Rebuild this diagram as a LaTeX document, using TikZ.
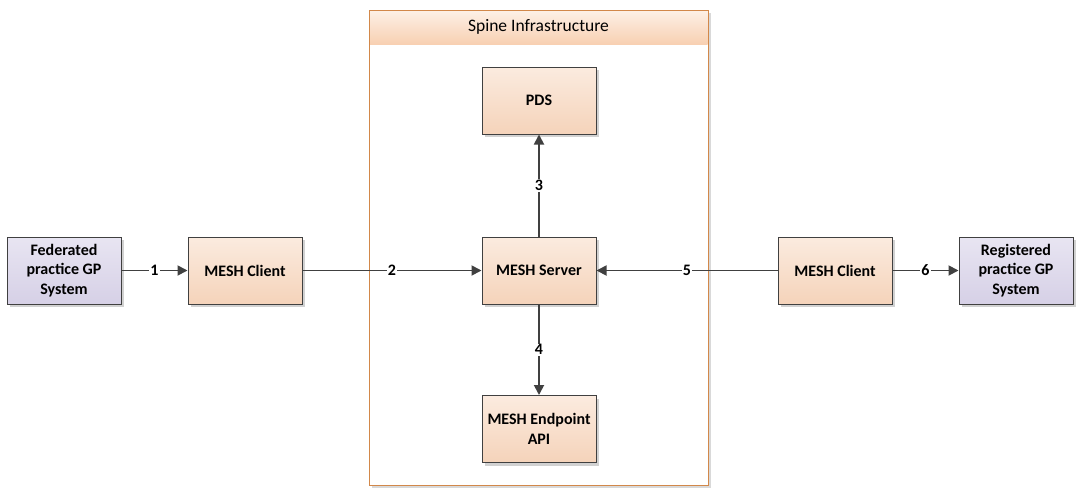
\documentclass[tikz,border=0pt]{standalone}
\usepackage{fontspec}
\setmainfont{Carlito}
\usetikzlibrary{arrows.meta,shadows}
\definecolor{boxtop}{HTML}{FBEBDF}
\definecolor{boxbot}{HTML}{F5D3BA}
\definecolor{systop}{HTML}{E8E5F2}
\definecolor{sysbot}{HTML}{D6D0E6}
\definecolor{edgec}{HTML}{404040}
\definecolor{contc}{HTML}{D2884A}
\definecolor{headtop}{HTML}{FDF0E6}
\definecolor{headbot}{HTML}{F8D0B2}
\tikzset{
  base/.style={draw=edgec, line width=1pt, minimum width=114pt, minimum height=67pt,
    align=center, font=\fontsize{16pt}{19.5pt}\selectfont\bfseries,
    drop shadow={shadow xshift=3pt, shadow yshift=-3pt, fill=black!18, opacity=1}},
  comp/.style={base, top color=boxtop, bottom color=boxbot},
  sys/.style={base, top color=systop, bottom color=sysbot},
  conn/.style={draw=edgec, line width=1.8pt, -{Triangle[length=10pt,width=10pt]}},
  lbl/.style={fill=white, inner sep=1pt, font=\fontsize{16pt}{19pt}\selectfont\bfseries, text=black}
}
\begin{document}
\begin{tikzpicture}[x=1pt,y=-1pt]
\useasboundingbox (0,0) rectangle (1081,496);
% container
\fill[black!15] (372,13) rectangle (711,488);
\draw[contc, line width=1pt, fill=white] (369,10) rectangle (708,485);
\shade[top color=headtop, bottom color=headbot] (369.5,10.5) rectangle (707.5,44);
\draw[contc, line width=1pt] (369,10) rectangle (708,485);
\node (title) at (538.5,27) {\fontsize{17.5pt}{20pt}\selectfont Spine Infrastructure};
% nodes
\node[sys]  (fed)  at (64,270.5) {Federated\\practice GP\\System};
\node[comp] (cl)   at (245,270.5) {MESH Client};
\node[comp] (srv)  at (539,270.5) {MESH Server};
\node[comp] (pds)  at (539,100.5) {PDS};
\node[comp] (ep)   at (539,429) {MESH Endpoint\\API};
\node[comp] (cr)   at (835,270.5) {MESH Client};
\node[sys]  (reg)  at (1016,270.5) {Registered\\practice GP\\System};
% connectors
\draw[conn] (fed) -- node[lbl]{1} (cl);
\draw[conn] (cl) -- node[lbl]{2} (srv);
\draw[conn] (srv) -- node[lbl]{3} (pds);
\draw[conn] (srv) -- node[lbl]{4} (ep);
\draw[conn] (cr) -- node[lbl]{5} (srv);
\draw[conn] (cr) -- node[lbl]{6} (reg);
\end{tikzpicture}
\end{document}
